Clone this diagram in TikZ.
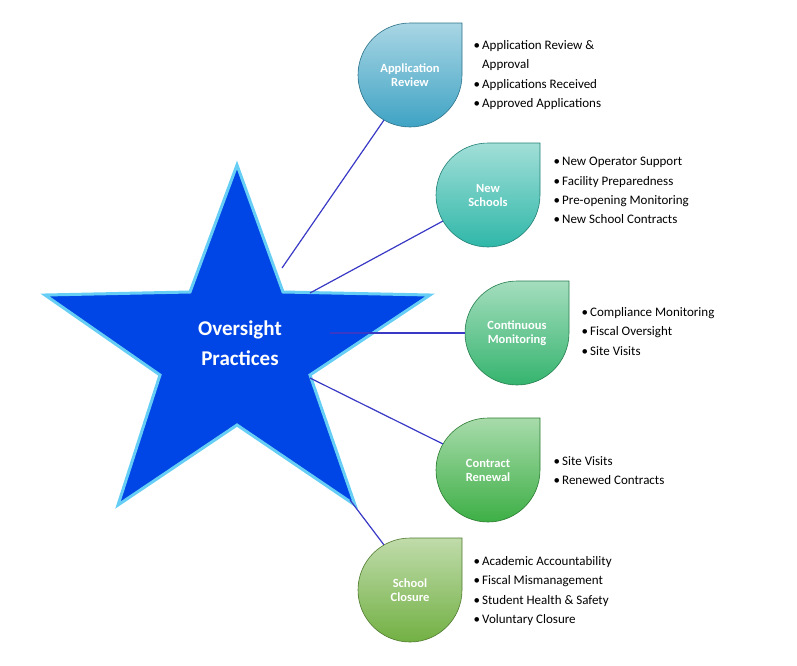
\documentclass[tikz,border=0pt]{standalone}
\usepackage{fontspec}
\setmainfont{Carlito}
\begin{document}
\begin{tikzpicture}[x=1pt,y=-1pt,
  lbl/.style={text=white,font=\bfseries\fontsize{12.5}{14}\selectfont,align=center},
  items/.style={anchor=north west,align=left,font=\fontsize{13}{19.3}\selectfont},
  conn/.style={draw=blue!55!gray,line width=1.2pt},
  drop/.style={circle,minimum size=104pt,inner sep=0pt}]
\useasboundingbox (0,0) rectangle (797,665);
% star
\draw[line width=3pt,draw=cyan!60!white,fill=blue!70!cyan!90!black,line join=miter]
 (237,165) -- (283,292) -- (430,295) -- (310,375) -- (355,505) -- (237,425)
 -- (118,505) -- (160,375) -- (45,295) -- (190,292) -- cycle;
\node[text=white,font=\bfseries\fontsize{21}{30}\selectfont,align=center] (star) at (240,343) {Oversight\\Practices};
\coordinate (s1) at (282,268);
\coordinate (s2) at (310,293);
\coordinate (s3) at (330,333);
\coordinate (s4) at (310,378);
\coordinate (s5) at (350,500);
% drops
\newcommand\mydrop[4]{%
 \shade[top color=#3!45!white,bottom color=#3,draw=#3!70!black,line width=0.6pt]
  (#1,#2-52) -- (#1+52,#2-52) -- (#1+52,#2) arc[start angle=0,end angle=270,radius=52] -- cycle;
 \node[drop] (#4) at (#1,#2) {};}
\definecolor{cA}{HTML}{3FA3C4}
\definecolor{cB}{HTML}{2FB7A8}
\definecolor{cC}{HTML}{35B46E}
\definecolor{cD}{HTML}{3DAF45}
\definecolor{cE}{HTML}{72B043}
\mydrop{410}{75}{cA}{ar}
\mydrop{488}{195}{cB}{ns}
\mydrop{517}{333}{cC}{cm}
\mydrop{488}{470}{cD}{cr}
\mydrop{410}{590}{cE}{sc}
\node[lbl] at (ar) {Application\\Review};
\node[lbl] at (ns) {New\\Schools};
\node[lbl] at (cm) {Continuous\\Monitoring};
\node[lbl] at (cr) {Contract\\Renewal};
\node[lbl] at (sc) {School\\Closure};
\draw[conn] (s1) -- (ar.240);
\draw[conn] (s2) -- (ns.210);
\draw[conn] (s3) -- (cm.west);
\draw[conn] (s4) -- (cr.150);
\draw[conn] (s5) -- (sc.120);
% texts
\node[items] (tA) at (470,37) {•\,Application Review \&\\\hphantom{•\,}Approval\\•\,Applications Received\\•\,Approved Applications};
\node[items] (tB) at (550,154) {•\,New Operator Support\\•\,Facility Preparedness\\•\,Pre-opening Monitoring\\•\,New School Contracts};
\node[items] (tC) at (578,304) {•\,Compliance Monitoring\\•\,Fiscal Oversight\\•\,Site Visits};
\node[items] (tD) at (550,453) {•\,Site Visits\\•\,Renewed Contracts};
\node[items] (tE) at (470,553) {•\,Academic Accountability\\•\,Fiscal Mismanagement\\•\,Student Health \& Safety\\•\,Voluntary Closure};
\end{tikzpicture}
\end{document}
